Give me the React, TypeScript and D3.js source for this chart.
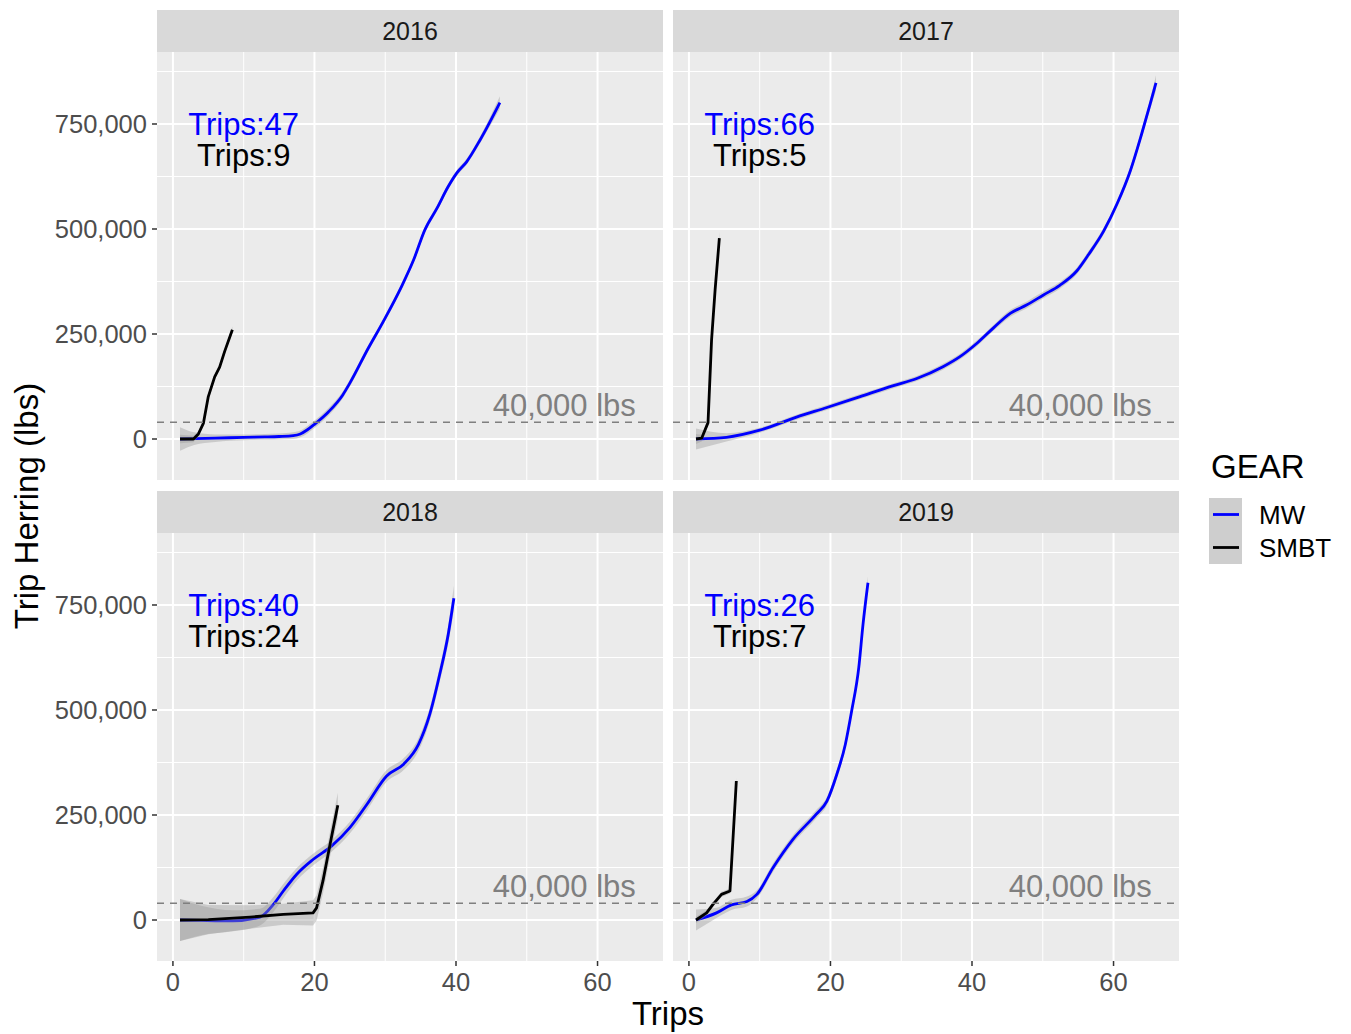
import React from 'react';
import * as d3 from 'd3';

const years = ['2016', '2017', '2018', '2019'];
const gears = ['MW', 'SMBT'];
const gearColors = ['#0000FF', '#000000'];
const mwTrips = [47, 66, 40, 26];
const smbtTrips = [9, 5, 24, 7];
const xTicks = [0, 20, 40, 60];
const xMinor = [10, 30, 50];
const yTicks = [0, 250000, 500000, 750000];
const yMinor = [125000, 375000, 625000, 875000];
const threshold = 40000;
const thresholdLabel = '40,000 lbs';

// [trip, cumulative herring lbs, ribbon half-width]
const mw2016 = [
  [1, 0, 28000], [3, 1000, 15000], [6, 2000, 9000], [10, 4000, 7000], [13, 5000, 7000],
  [15, 6000, 7000], [17, 8000, 8000], [18, 12000, 8000], [19, 22000, 9000], [20, 35000, 9000],
  [22, 65000, 9000], [24, 105000, 8000], [25, 133000, 8000], [27.6, 216000, 7000],
  [29.7, 279000, 7000], [32.3, 363000, 7000], [34, 426000, 7000], [35.6, 498000, 7000],
  [37.3, 549000, 7000], [38.9, 601000, 7000], [40.1, 633000, 7000], [41.5, 660000, 7000],
  [43.4, 712000, 8000], [46.2, 801000, 15000],
];
const smbt2016 = [
  [1, 0, 10000], [2.9, 0, 8000], [3.6, 12000, 6000], [4.3, 37000, 6000], [5, 101000, 6000],
  [5.9, 148000, 6000], [6.6, 171000, 6000], [7.3, 208000, 6000], [8.4, 260000, 8000],
];
const mw2017 = [
  [1, 0, 25000], [5.3, 4000, 10000], [10, 21000, 6000], [15.2, 52000, 6000], [19.5, 75000, 6000],
  [24.2, 101000, 6000], [28.9, 127000, 6000], [32.2, 144000, 6000], [35.9, 172000, 7000],
  [38.3, 196000, 7000], [40.7, 228000, 7000], [43, 264000, 7000], [45.4, 299000, 8000],
  [47.7, 319000, 8000], [50.1, 343000, 8000], [52.4, 366000, 8000], [54.8, 400000, 8000],
  [56.5, 440000, 8000], [58.6, 495000, 8000], [60.5, 560000, 8000], [62.4, 640000, 9000],
  [64, 728000, 10000], [65.2, 799000, 12000], [66, 848000, 18000],
];
const smbt2017 = [
  [1, 0, 12000], [1.8, 2000, 8000], [2.7, 39000, 8000], [3.2, 236000, 10000],
  [3.7, 355000, 10000], [4.3, 478000, 15000],
];
const mw2018 = [
  [1, 0, 50000], [4, -1000, 35000], [8.5, -2000, 25000], [12.3, 7000, 20000], [14.2, 37000, 18000],
  [15.6, 69000, 17000], [17.5, 109000, 15000], [19.8, 144000, 14000], [22.4, 176000, 14000],
  [25, 220000, 14000], [27.4, 275000, 14000], [30.2, 343000, 14000], [32.6, 371000, 14000],
  [34.7, 418000, 15000], [36.3, 490000, 16000], [37.7, 585000, 18000], [38.9, 680000, 22000],
  [39.7, 766000, 30000],
];
const smbt2018 = [
  [1, 0, 50000], [5, 1000, 35000], [10.9, 7000, 28000], [15.6, 13500, 25000], [19.8, 17000, 30000],
  [20.3, 29000, 30000], [21.2, 93000, 30000], [22.2, 180000, 30000], [23.3, 273000, 30000],
];
const mw2019 = [
  [1, 0, 25000], [3.9, 17000, 12000], [6, 36000, 12000], [8.2, 44000, 12000], [9.6, 61000, 10000],
  [11.9, 125000, 10000], [14.7, 192000, 10000], [18, 252000, 10000], [19.5, 283000, 10000],
  [20.9, 347000, 10000], [22.1, 418000, 10000], [23, 498000, 10000], [24, 601000, 10000],
  [24.6, 704000, 12000], [25.3, 803000, 15000],
];
const smbt2019 = [
  [1, 0, 8000], [2.5, 17000, 6000], [3.4, 37000, 6000], [4.6, 61000, 6000], [5.8, 69000, 6000],
  [6.7, 331000, 8000],
];

const mwSeries = [mw2016, mw2017, mw2018, mw2019];
const smbtSeries = [smbt2016, smbt2017, smbt2018, smbt2019];

const FONT = '"Liberation Sans", Arial, Helvetica, sans-serif';
const W = 1351;
const H = 1034;
const panelW = 506;
const panelH = 428;
const panelXs = [157, 673];
const stripYs = [10, 491];
const stripH = 42;

const x = d3.scaleLinear().domain([-2.25, 69.25]).range([0, panelW]);
const y = d3.scaleLinear().domain([-97600, 921400]).range([panelH, 0]);
const fmt = d3.format(',');

const lineGen = (curve: any) =>
  d3.line<number[]>().x((d) => x(d[0])).y((d) => y(d[1])).curve(curve);
const areaGen = (curve: any) =>
  d3.area<number[]>().x((d) => x(d[0])).y0((d) => y(d[1] - d[2])).y1((d) => y(d[1] + d[2])).curve(curve);

function Panel({ i }: { i: number }) {
  const col = i % 2;
  const row = Math.floor(i / 2);
  const px = panelXs[col];
  const sy = stripYs[row];
  const py = sy + stripH;
  const series = [mwSeries[i], smbtSeries[i]];
  const curves = [d3.curveMonotoneX, d3.curveLinear];
  const clipId = `clip-${i}`;
  return (
    <g>
      <rect x={px} y={sy} width={panelW} height={stripH} fill="#D9D9D9" />
      <text x={px + panelW / 2} y={sy + 30} fontSize={25} fill="#1A1A1A" textAnchor="middle" fontFamily={FONT}>
        {years[i]}
      </text>
      <g transform={`translate(${px},${py})`}>
        <defs>
          <clipPath id={clipId}>
            <rect x={0} y={0} width={panelW} height={panelH} />
          </clipPath>
        </defs>
        <rect x={0} y={0} width={panelW} height={panelH} fill="#EBEBEB" />
        {yMinor.map((v) => (
          <line key={'ym' + v} x1={0} x2={panelW} y1={y(v)} y2={y(v)} stroke="#FFFFFF" strokeWidth={1} />
        ))}
        {xMinor.map((v) => (
          <line key={'xm' + v} x1={x(v)} x2={x(v)} y1={0} y2={panelH} stroke="#FFFFFF" strokeWidth={1} />
        ))}
        {yTicks.map((v) => (
          <line key={'yM' + v} x1={0} x2={panelW} y1={y(v)} y2={y(v)} stroke="#FFFFFF" strokeWidth={2} />
        ))}
        {xTicks.map((v) => (
          <line key={'xM' + v} x1={x(v)} x2={x(v)} y1={0} y2={panelH} stroke="#FFFFFF" strokeWidth={2} />
        ))}
        <g clipPath={`url(#${clipId})`}>
          {series.map((s, k) => (
            <g key={k}>
              <path d={areaGen(curves[k])(s as any) || ''} fill="#999999" fillOpacity={0.4} stroke="none" />
              <path d={lineGen(curves[k])(s as any) || ''} fill="none" stroke={gearColors[k]} strokeWidth={2.8} strokeLinejoin="round" />
            </g>
          ))}
          <line x1={0} x2={panelW} y1={y(threshold)} y2={y(threshold)} stroke="#7F7F7F" strokeWidth={1.4} strokeDasharray="7 6" />
        </g>
        <text x={x(10)} y={y(750000) + 11} fontSize={31} fill={gearColors[0]} textAnchor="middle" fontFamily={FONT}>
          {`Trips:${mwTrips[i]}`}
        </text>
        <text x={x(10)} y={y(675000) + 11} fontSize={31} fill={gearColors[1]} textAnchor="middle" fontFamily={FONT}>
          {`Trips:${smbtTrips[i]}`}
        </text>
        <text x={x(55.3)} y={y(80000) + 11} fontSize={31} fill="#7F7F7F" textAnchor="middle" fontFamily={FONT}>
          {thresholdLabel}
        </text>
        {col === 0 &&
          yTicks.map((v) => (
            <g key={'yl' + v}>
              <line x1={-5} x2={0} y1={y(v)} y2={y(v)} stroke="#333333" strokeWidth={1.5} />
              <text x={-10} y={y(v) + 9} fontSize={25.5} fill="#4D4D4D" textAnchor="end" fontFamily={FONT}>
                {fmt(v)}
              </text>
            </g>
          ))}
        {row === 1 &&
          xTicks.map((v) => (
            <g key={'xl' + v}>
              <line x1={x(v)} x2={x(v)} y1={panelH} y2={panelH + 5} stroke="#333333" strokeWidth={1.5} />
              <text x={x(v)} y={panelH + 30} fontSize={25.5} fill="#4D4D4D" textAnchor="middle" fontFamily={FONT}>
                {v}
              </text>
            </g>
          ))}
      </g>
    </g>
  );
}

export default function App() {
  const legendKeyY = [498, 531];
  return (
    <svg width={W} height={H} style={{ position: 'absolute', left: 0, top: 0, display: 'block' }} fontFamily={FONT}>
      <rect x={0} y={0} width={W} height={H} fill="#FFFFFF" />
      {years.map((_, i) => (
        <Panel key={i} i={i} />
      ))}
      <text x={668} y={1025} fontSize={33} textAnchor="middle" fill="#000000">Trips</text>
      <text transform="translate(38,506) rotate(-90)" fontSize={33} textAnchor="middle" fill="#000000">
        Trip Herring (lbs)
      </text>
      <text x={1211} y={478} fontSize={33} fill="#000000">GEAR</text>
      {gears.map((g, k) => (
        <g key={g}>
          <rect x={1209} y={legendKeyY[k]} width={33} height={33} fill="#F2F2F2" />
          <rect x={1209} y={legendKeyY[k]} width={33} height={33} fill="#999999" fillOpacity={0.4} />
          <line x1={1213} x2={1239} y1={legendKeyY[k] + 16.5} y2={legendKeyY[k] + 16.5} stroke={gearColors[k]} strokeWidth={2.8} />
          <text x={1259} y={legendKeyY[k] + 16.5 + 9} fontSize={26} fill="#000000">{g}</text>
        </g>
      ))}
    </svg>
  );
}
